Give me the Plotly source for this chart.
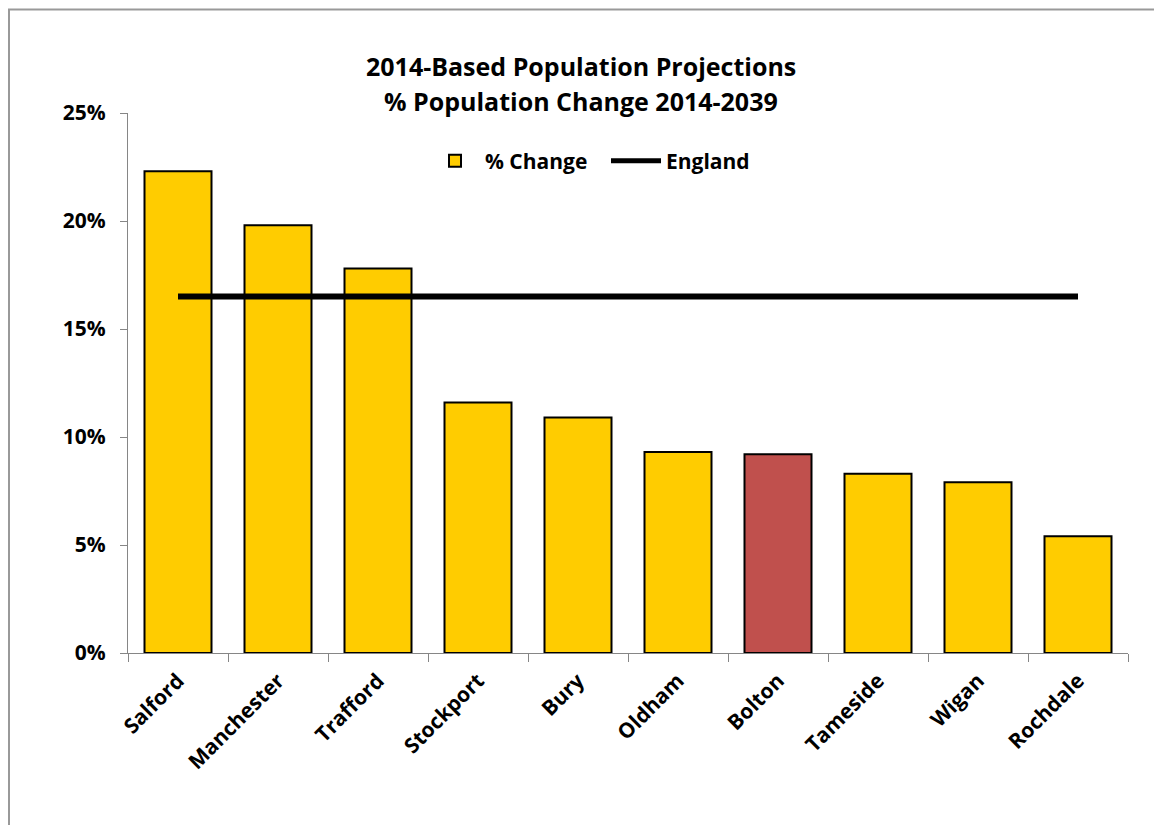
import plotly.graph_objects as go

areas = ["Salford", "Manchester", "Trafford", "Stockport", "Bury", "Oldham",
         "Bolton", "Tameside", "Wigan", "Rochdale"]
pct_change = [22.3, 19.8, 17.8, 11.6, 10.9, 9.3, 9.2, 8.3, 7.9, 5.4]
england = [16.5] * len(areas)
y_ticks = [0, 5, 10, 15, 20, 25]
y_tick_labels = ["0%", "5%", "10%", "15%", "20%", "25%"]
title_lines = ["2014-Based Population Projections", "% Population Change 2014-2039"]

bar_colors = ["#C0504D" if a == "Bolton" else "#FFCC00" for a in areas]
FONT = "Open Sans"

fig = go.Figure()
fig.add_trace(go.Bar(
    x=areas, y=pct_change, name="% Change",
    marker=dict(color=bar_colors, line=dict(color="#000000", width=2)),
    width=0.67,
))
fig.add_trace(go.Scatter(
    x=areas, y=england, name="England", mode="lines",
    line=dict(color="#000000", width=6),
))

# page body has an 8px margin; figure coords = window coords - 8
OFF = 8
W, H = 1162 - OFF, 825 - OFF
L, T = 128 - OFF, 113 - OFF
pw, ph = 1000, 540
R, B = W - L - pw, H - T - ph

def px(wx):
    return (wx - OFF - L) / pw

def py(wy):
    return (T + ph - (wy - OFF)) / ph

annotations = [
    dict(text="<b>%s</b>" % title_lines[0], xref="paper", yref="paper",
         x=px(581), y=py(66), xanchor="center", yanchor="middle", showarrow=False,
         font=dict(family=FONT, size=25, color="#000000")),
    dict(text="<b>%s</b>" % title_lines[1], xref="paper", yref="paper",
         x=px(581), y=py(101), xanchor="center", yanchor="middle", showarrow=False,
         font=dict(family=FONT, size=25, color="#000000")),
]

fig.update_layout(
    width=W, height=H,
    margin=dict(l=L, r=R, t=T, b=B),
    paper_bgcolor="white", plot_bgcolor="white",
    font=dict(family=FONT, color="#000000", size=21),
    showlegend=True,
    legend=dict(
        orientation="h", x=px(425), xanchor="left", y=py(161), yanchor="middle",
        font=dict(family=FONT, size=21, color="#000000", weight="bold"),
        bgcolor="rgba(0,0,0,0)", itemwidth=50, traceorder="normal",
        entrywidth=116, entrywidthmode="pixels",
    ),
    legend_itemsizing="constant",
    annotations=annotations,
    shapes=[dict(
        type="rect", xref="paper", yref="paper",
        x0=px(9), y0=py(840), x1=px(1180), y1=py(9.5),
        line=dict(color="#999999", width=2), fillcolor="rgba(0,0,0,0)", layer="below",
    )],
)
fig.update_xaxes(
    type="category", showgrid=False, showline=True, linecolor="#868686", linewidth=1.3,
    ticks="outside", tickson="boundaries", ticklen=8, tickcolor="#868686",
    tickangle=-45, tickfont=dict(family=FONT, size=21, weight="bold"),
    ticklabelstandoff=6,
)
fig.update_yaxes(
    range=[0, 25], tickvals=y_ticks, ticktext=y_tick_labels, showgrid=False,
    showline=True, linecolor="#868686", linewidth=1.3, ticks="outside", ticklen=7,
    tickcolor="#868686", tickfont=dict(family=FONT, size=21, weight="bold"), zeroline=False,
    ticklabelstandoff=10,
)

fig.write_html("out.html")
